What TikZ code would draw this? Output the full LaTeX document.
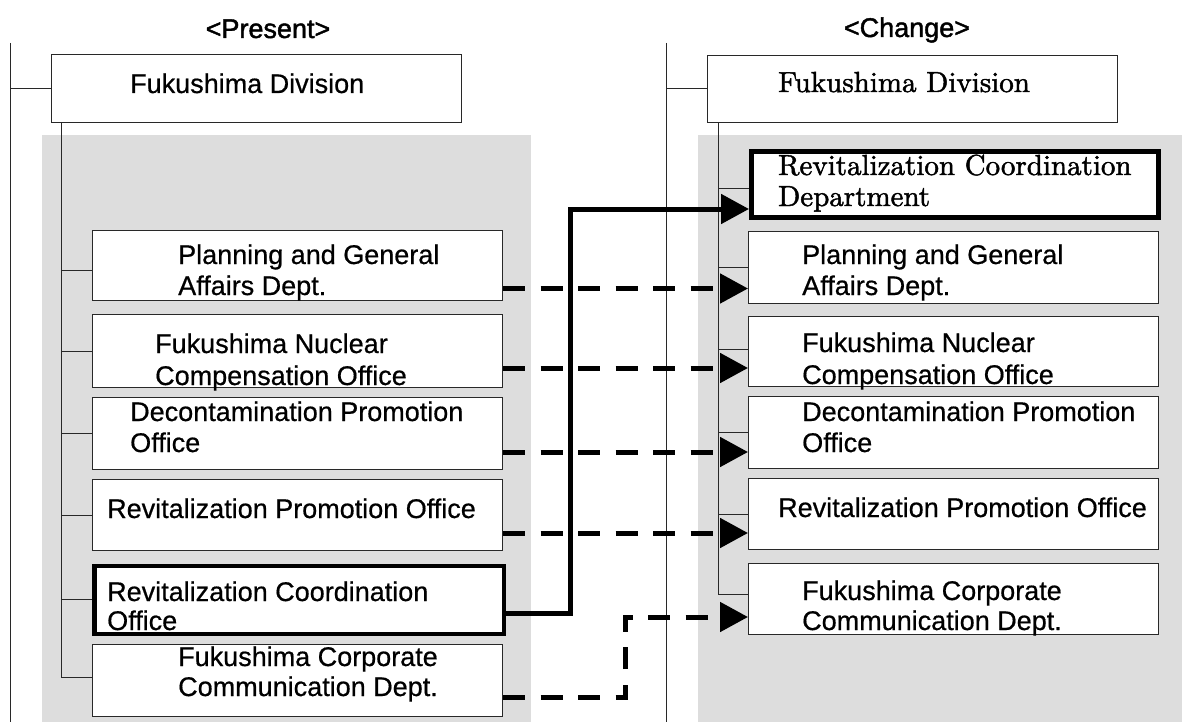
\documentclass[tikz,border=0pt]{standalone}
\usepackage{fontspec}
\newfontfamily\sansf{Liberation Sans}[RawFeature={embolden=0.6}]
\newfontfamily\sansttl{Liberation Sans}[RawFeature={embolden=1.6}]
\newfontfamily\lmser{lmroman10-regular.otf}[RawFeature={embolden=1.6}]
\usetikzlibrary{arrows.meta}
\definecolor{bggray}{RGB}{221,221,221}
\definecolor{linec}{RGB}{40,40,40}
\newcommand{\serifbig}[1]{\scalebox{2.9}{\lmser\fontsize{10}{12}\selectfont #1}}
\begin{document}
\begin{tikzpicture}[x=1pt,y=-1pt,
  box/.style={draw=linec, line width=1pt, fill=white, rectangle, inner sep=0pt, anchor=north west},
  thickbox/.style={draw=black, line width=4.5pt, fill=white, rectangle, inner sep=0pt, anchor=north west},
  conn/.style={draw=linec, line width=1pt},
  st/.style={font=\sansf\fontsize{27}{31}\selectfont, anchor=base west, inner sep=0pt},
  sr/.style={anchor=base west, inner sep=0pt},
  ttl/.style={font=\sansttl\fontsize{27}{31}\selectfont, anchor=base, inner sep=0pt},
  dasharrow/.style={line width=5pt, dash pattern=on 22pt off 15.5pt, -{Triangle[length=28pt,width=29pt]}},
  solidarrow/.style={line width=5pt, -{Triangle[length=28pt,width=29pt]}}
]
% canvas
\fill[white] (0,0) rectangle (1182,722);
\useasboundingbox (0,0) rectangle (1182,722);
% gray panels
\fill[bggray] (42,135) rectangle (531,722);
\fill[bggray] (698,135) rectangle (1182,722);

% ---------- left (present) ----------
\node[box, minimum width=410pt, minimum height=68pt] (ldiv) at (51,54) {};
\node[box, minimum width=410pt, minimum height=70pt] (lp) at (92,230) {};
\node[box, minimum width=410pt, minimum height=73pt] (ln) at (92,314) {};
\node[box, minimum width=410pt, minimum height=72pt] (ld) at (92,397) {};
\node[box, minimum width=410pt, minimum height=71pt] (lr) at (92,479) {};
\node[thickbox, minimum width=409.5pt, minimum height=68pt] (lc) at (92,563.5) {};
\node[box, minimum width=410pt, minimum height=72pt] (lf) at (92,644) {};

% ---------- right (change) ----------
\node[box, minimum width=410.5pt, minimum height=67pt] (rdiv) at (706.5,55) {};
\node[thickbox, minimum width=407pt, minimum height=65.5pt] (rc) at (749,149.5) {};
\node[box, minimum width=410pt, minimum height=72pt] (rp) at (748,231) {};
\node[box, minimum width=410pt, minimum height=70pt] (rn) at (748,316) {};
\node[box, minimum width=410pt, minimum height=72pt] (rd) at (748,396) {};
\node[box, minimum width=410pt, minimum height=71pt] (rr) at (748,478) {};
\node[box, minimum width=410pt, minimum height=71pt] (rf) at (748,563) {};

% ---------- tree lines ----------
\coordinate (ltop) at (10,43);
\coordinate (lbot) at (10,722);
\draw[conn] (ltop) -- (lbot);
\draw[conn] (ldiv.west -| ltop) -- (ldiv.west);
\coordinate (ls) at (61,0);
\coordinate (lpw) at ([yshift=-5pt]lp.west);
\coordinate (lfw) at ([yshift=3pt]lf.west);
\draw[conn] (ls |- ldiv.south) -- (ls |- lfw);
\draw[conn] (ls |- lpw) -- (lpw);
\draw[conn] (ls |- ln.west) -- (ln.west);
\draw[conn] (ls |- ld.west) -- (ld.west);
\draw[conn] (ls |- lr.west) -- (lr.west);
\draw[conn] (ls |- lc.west) -- (lc.west);
\draw[conn] (ls |- lfw) -- (lfw);

\coordinate (rtop) at (666,43);
\coordinate (rbot) at (666,722);
\draw[conn] (rtop) -- (rbot);
\draw[conn] (rdiv.west -| rtop) -- (rdiv.west);
\coordinate (rs) at (718,0);
\coordinate (rcw) at ([yshift=-4pt]rc.west);
\coordinate (rnw) at ([yshift=2pt]rn.west);
\coordinate (rfw) at ([yshift=4.5pt]rf.west);
\draw[conn] (rs |- rdiv.south) -- (rs |- rfw);
\draw[conn] (rs |- rcw) -- (rcw);
\draw[conn] (rs |- rp.west) -- (rp.west);
\draw[conn] (rs |- rnw) -- (rnw);
\draw[conn] (rs |- rd.west) -- (rd.west);
\draw[conn] (rs |- rr.west) -- (rr.west);
\draw[conn] (rs |- rfw) -- (rfw);

% ---------- arrows ----------
\coordinate (a1) at (0,288.5);
\coordinate (a2) at (0,368);
\coordinate (a3) at (0,452);
\coordinate (a4) at (0,533);
\draw[dasharrow] (lp.east |- a1) -- (rp.west |- a1);
\draw[dasharrow] (ln.east |- a2) -- (rn.west |- a2);
\draw[dasharrow] (ld.east |- a3) -- (rd.west |- a3);
\draw[dasharrow] (lr.east |- a4) -- (rr.west |- a4);
\coordinate (s1) at (0,613);
\coordinate (s2) at (570,209);
\draw[solidarrow] (lc.east |- s1) -| (s2) -- (rc.west |- s2);
\coordinate (c1) at (0,697);
\coordinate (c2) at (625,617);
\draw[dasharrow] (lf.east |- c1) -| (c2) -- (rf.west |- c2);

% ---------- texts ----------
\node[ttl] (tpres) at (268,38) {<Present>};
\node[ttl] (tchg) at (907,37) {<Change>};

\node[st] (ldivt) at (130,93) {Fukushima Division};
\node[st] (lpt1) at (178,264) {Planning and General};
\node[st] (lpt2) at (178,295) {Affairs Dept.};
\node[st] (lnt1) at (155,353) {Fukushima Nuclear};
\node[st] (lnt2) at (155,385) {Compensation Office};
\node[st] (ldt1) at (130,421) {Decontamination Promotion};
\node[st] (ldt2) at (130,452) {Office};
\node[st] (lrt) at (107,518) {Revitalization Promotion Office};
\node[st] (lct1) at (107,601) {Revitalization Coordination};
\node[st] (lct2) at (107,630) {Office};
\node[st] (lft1) at (178,666) {Fukushima Corporate};
\node[st] (lft2) at (178,696) {Communication Dept.};

\node[sr] (rdivt) at (778,92) {\serifbig{Fukushima Division}};
\node[sr] (rct1) at (778,175) {\serifbig{Revitalization Coordination}};
\node[sr] (rct2) at (778,206) {\serifbig{Department}};
\node[st] (rpt1) at (802,264) {Planning and General};
\node[st] (rpt2) at (802,295) {Affairs Dept.};
\node[st] (rnt1) at (802,352) {Fukushima Nuclear};
\node[st] (rnt2) at (802,384) {Compensation Office};
\node[st] (rdt1) at (802,421) {Decontamination Promotion};
\node[st] (rdt2) at (802,452) {Office};
\node[st] (rrt) at (778,517) {Revitalization Promotion Office};
\node[st] (rft1) at (802,600) {Fukushima Corporate};
\node[st] (rft2) at (802,630) {Communication Dept.};
\end{tikzpicture}
\end{document}
